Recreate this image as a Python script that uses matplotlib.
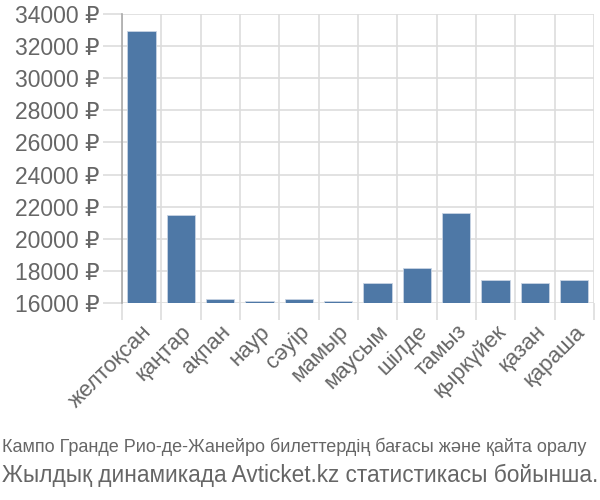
import matplotlib
matplotlib.use("Agg")
import matplotlib.pyplot as plt
import numpy as np

months = ["желтоқсан", "қаңтар", "ақпан", "наур", "сәуір", "мамыр",
          "маусым", "шілде", "тамыз", "қыркүйек", "қазан", "қараша"]
prices = [32950, 21450, 16250, 16100, 16250, 16100,
          17250, 18150, 21600, 17450, 17250, 17450]
yticks = list(range(16000, 34001, 2000))

BAR = "#4e78a6"
GRID = "#dddddd"
TXT = "#666666"

plt.rcParams["font.family"] = ["Liberation Sans", "DejaVu Sans"]

fig = plt.figure(figsize=(6, 5), dpi=100)
ax = fig.add_axes([0.203, 0.394, 0.787, 0.578])

x = np.arange(len(months))
ax.bar(x, np.array(prices) - 16000, bottom=16000, width=0.72, color=BAR,
       edgecolor="#c8d4e3", linewidth=0.6, zorder=3)

ax.set_xlim(-0.5, len(months) - 0.5)
ax.set_ylim(16000, 34000)
ax.set_yticks(yticks)
ax.set_yticklabels([f"{v} ₽" for v in yticks], fontsize=16.5, color=TXT)
ax.set_xticks(x)
ax.set_xticklabels(months, rotation=45, ha="right", rotation_mode="anchor",
                   fontsize=16, color=TXT)
ax.set_xticks(np.arange(-0.5, len(months)), minor=True)

ax.tick_params(axis="x", which="major", length=0, pad=13)
ax.tick_params(axis="x", which="minor", length=12, color=GRID, width=1.2)
ax.tick_params(axis="y", length=14, color=GRID, width=1.2, pad=2)
ax.grid(axis="y", color=GRID, linewidth=1.2, zorder=0)
ax.grid(axis="x", which="minor", color=GRID, linewidth=1.2, zorder=0)

for s in ["top", "right", "bottom"]:
    ax.spines[s].set_visible(False)
ax.spines["left"].set_color("#aaaaaa")
ax.spines["left"].set_linewidth(1.2)

fig.text(0.003, 0.106, "Кампо Гранде Рио-де-Жанейро билеттердің бағасы және қайта оралу",
         fontsize=13.0, color=TXT, family=["Liberation Sans Narrow", "Liberation Sans"],
         va="center")
fig.text(0.003, 0.05, "Жылдық динамикада Avticket.kz статистикасы бойынша.",
         fontsize=16.3, color=TXT, va="center")

fig.savefig("out.png", dpi=100, facecolor="white")
